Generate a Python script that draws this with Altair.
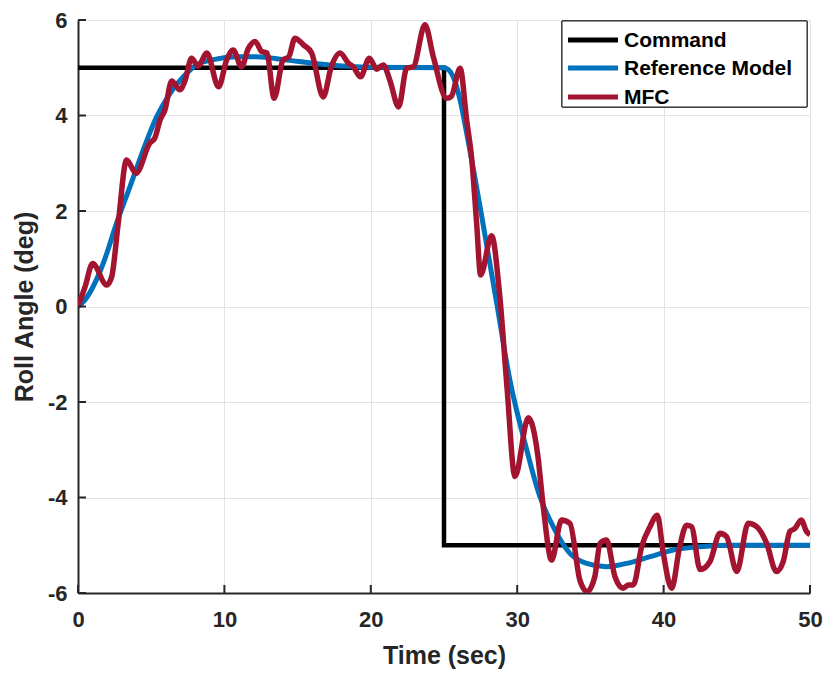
import altair as alt
import pandas as pd

# Commanded roll angle (step up, then step down at 25 s)
cmd_t = [0, 25, 25, 50]
cmd_v = [5, 5, -5, -5]

# Reference model response
ref_t = [0, 0.48, 1.72, 2.63, 3.55, 4.46, 5.37, 6.28, 7.19, 8.1, 9.24, 10.84,
         12.2, 14.25, 16.5, 18.5, 20, 25, 25.3, 25.63, 26.1, 26.55, 27.1, 27.7,
         28.6, 29.5, 30.6, 31.55, 32.46, 33.6, 34.74, 36.1, 37.47, 39.07, 40.66,
         42.5, 44.76, 50]
ref_v = [0, 0.14, 0.9, 1.74, 2.51, 3.28, 3.97, 4.46, 4.81, 5.06, 5.17, 5.23,
         5.23, 5.16, 5.08, 5.03, 5.01, 5.0, 4.96, 4.81, 4.32, 3.63, 2.72, 1.67,
         0.07, -1.54, -2.94, -3.98, -4.61, -5.17, -5.38, -5.45, -5.38, -5.24, -5.1,
         -5.03, -5.0, -5.0]

# MFC closed-loop response
mfc_t = [0, 0.48, 1.0, 1.96, 2.3, 2.75, 3.32, 3.96, 4.9, 5.25, 5.6, 5.94, 6.4,
         6.96, 7.3, 7.76, 8.2, 8.8, 9.6, 10.15, 10.6, 11.17, 11.63, 12.1, 12.55,
         12.9, 13.4, 14.0, 14.4, 14.82, 15.4, 15.96, 16.75, 17.3, 17.9, 18.46,
         18.8, 19.3, 19.9, 20.4, 20.85, 21.3, 21.9, 22.45, 22.9, 23.7, 24.27,
         25.18, 25.5, 26.1, 26.55, 26.9, 27.23, 27.5, 28.25, 28.8, 29.3, 29.85,
         30.76, 31.4, 31.78, 32.35, 33.03, 33.6, 34.28, 34.78, 35.3, 35.66, 36.1,
         36.68, 37.24, 37.6, 37.93, 38.5, 39.07, 39.57, 39.98, 40.55, 41.1, 41.57,
         41.9, 42.5, 43.17, 43.85, 44.3, 45.0, 45.78, 46.36, 47.04, 47.7, 48.17,
         48.63, 48.97, 49.4, 49.76, 50]
mfc_v = [0, 0.41, 0.9, 0.45, 0.62, 1.75, 3.07, 2.79, 3.42, 3.53, 3.9, 4.12, 4.72,
         4.54, 4.72, 5.2, 5.03, 5.31, 4.6, 5.16, 5.37, 5.02, 5.4, 5.55, 5.34,
         5.31, 4.36, 5.16, 5.23, 5.62, 5.48, 5.31, 4.39, 5.02, 5.31, 5.1,
         5.02, 4.81, 5.2, 4.97, 5.06, 4.74, 4.18, 4.99, 5.02, 5.9, 5.23,
         4.36, 4.4, 4.99, 3.9, 3.07, 1.74, 0.66, 1.48, 0.25, -1.68, -3.56,
         -2.33, -3.1, -4.19, -5.31, -4.47, -4.54, -5.73, -5.97, -5.66, -4.96, -4.89,
         -5.66, -5.9, -5.83, -5.83, -5.03, -4.61, -4.37, -5.17, -5.9, -5.03, -4.58,
         -4.61, -5.51, -5.34, -4.75, -4.82, -5.55, -4.54, -4.61, -4.96, -5.55, -5.34,
         -4.71, -4.65, -4.47, -4.71, -4.78]

series_names = ["Command", "Reference Model", "MFC"]
series_colors = ["#000000", "#0072BD", "#A2142F"]
series_widths = [4.5, 5, 5.5]

x_ticks = [0, 10, 20, 30, 40, 50]
y_ticks = [-6, -4, -2, 0, 2, 4, 6]

FONT = "Liberation Sans"
AXIS_COLOR = "#262626"
W, H = 732, 573


def frame(name, t, v):
    return pd.DataFrame({"series": name, "t": t, "v": v, "i": range(len(t))})


frames = [frame("Command", cmd_t, cmd_v),
          frame("Reference Model", ref_t, ref_v),
          frame("MFC", mfc_t, mfc_v)]

x_scale = alt.Scale(domain=[0, 50], nice=False, zero=False)
y_scale = alt.Scale(domain=[-6, 6], nice=False, zero=False)
color_scale = alt.Scale(domain=series_names, range=series_colors)

# plain ASCII hyphen for negative labels
plain_label = "'' + datum.value"

x_axis = alt.Axis(values=x_ticks, title="Time (sec)", labelPadding=16,
                  titlePadding=13, grid=True, tickSize=0, labelFlush=False,
                  labelExpr=plain_label)
y_axis = alt.Axis(values=y_ticks, title="Roll Angle (deg)", labelPadding=11,
                  titlePadding=10, grid=True, tickSize=0, labelFlush=False,
                  labelExpr=plain_label)

X = alt.X("t:Q", scale=x_scale, axis=x_axis)
Y = alt.Y("v:Q", scale=y_scale, axis=y_axis)


def line_layer(df, width, interp):
    return alt.Chart(df).mark_line(
        strokeWidth=width, interpolate=interp, strokeCap="butt", clip=True
    ).encode(
        x=X, y=Y,
        color=alt.Color("series:N", scale=color_scale, legend=None),
        order="i:Q",
    )


lines = [
    line_layer(frames[0], series_widths[0], "linear"),
    line_layer(frames[1], series_widths[1], "monotone"),
    line_layer(frames[2], series_widths[2], "monotone"),
]

# Inward-facing tick marks
x_tick_marks = alt.Chart(pd.DataFrame({"t": x_ticks})).mark_rule(
    color=AXIS_COLOR, strokeWidth=2
).encode(x=X, y=alt.value(H), y2=alt.value(H - 8))

y_tick_marks = alt.Chart(pd.DataFrame({"v": y_ticks})).mark_rule(
    color=AXIS_COLOR, strokeWidth=2
).encode(y=Y, x=alt.value(0), x2=alt.value(8))

# Boxed legend in the upper-right corner
LEG_X0, LEG_X1, LEG_Y0, LEG_Y1 = 484, 729, 1, 87
ROW_Y = [20, 48, 77]
SYM_X0, SYM_X1, TEXT_X = 490, 540, 546

legend_df = pd.DataFrame({"series": series_names})
legend_layers = [
    alt.Chart(legend_df).mark_rect(
        fill="white", stroke=AXIS_COLOR, strokeWidth=1
    ).encode(x=alt.value(LEG_X0), x2=alt.value(LEG_X1),
             y=alt.value(LEG_Y0), y2=alt.value(LEG_Y1))
]
for k, name in enumerate(series_names):
    entry = legend_df[legend_df["series"] == name]
    legend_layers.append(
        alt.Chart(entry).mark_rule(
            color=series_colors[k], strokeWidth=5, strokeCap="butt"
        ).encode(x=alt.value(SYM_X0), x2=alt.value(SYM_X1), y=alt.value(ROW_Y[k]))
    )
    legend_layers.append(
        alt.Chart(entry).mark_text(
            align="left", baseline="middle", font=FONT, fontSize=21,
            fontWeight="bold", color="black", dy=1
        ).encode(x=alt.value(TEXT_X), y=alt.value(ROW_Y[k]), text="series:N")
    )

chart = alt.layer(
    *lines,
    x_tick_marks,
    y_tick_marks,
    *legend_layers,
).properties(
    width=W, height=H,
    autosize=alt.AutoSizeParams(type="none"),
    padding={"left": 78, "top": 20, "right": 15, "bottom": 82},
    background="white",
).configure_view(
    stroke=None
).configure_axis(
    domainColor=AXIS_COLOR, domainWidth=2,
    gridColor="#e3e3e3", gridWidth=1,
    labelFont=FONT, labelFontSize=22, labelFontWeight="bold", labelColor=AXIS_COLOR,
    titleFont=FONT, titleFontSize=25, titleFontWeight="bold", titleColor=AXIS_COLOR,
)

chart.save("out.html", embed_options={"renderer": "svg", "actions": False})
